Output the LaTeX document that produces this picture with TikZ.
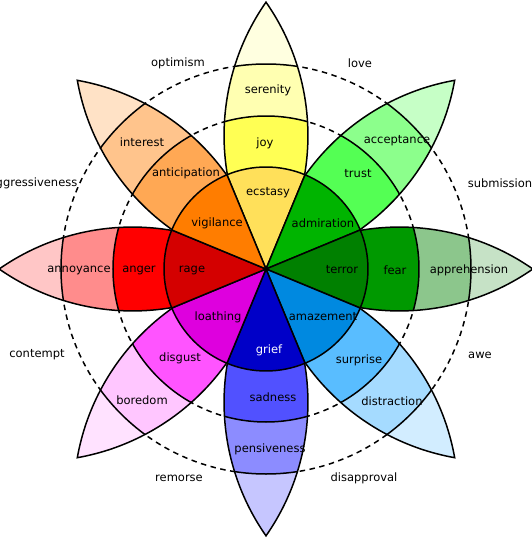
\documentclass[tikz,border=0pt]{standalone}
\usepackage{fontspec}
\setmainfont{DejaVu Sans}
\definecolor{ecs}{HTML}{FFE05A}
\definecolor{joy}{HTML}{FFFF54}
\definecolor{ser}{HTML}{FFFFB1}
\definecolor{joyt}{HTML}{FFFFE0}
\definecolor{adm}{HTML}{00B400}
\definecolor{tru}{HTML}{54FF54}
\definecolor{acc}{HTML}{8CFF8C}
\definecolor{trut}{HTML}{C6FFC6}
\definecolor{ter}{HTML}{008000}
\definecolor{fea}{HTML}{009900}
\definecolor{app}{HTML}{8CC68C}
\definecolor{feat}{HTML}{C6E2C6}
\definecolor{ama}{HTML}{0089E0}
\definecolor{sur}{HTML}{59BDFF}
\definecolor{dis}{HTML}{A5DBFF}
\definecolor{surt}{HTML}{D2EDFF}
\definecolor{gri}{HTML}{0000C8}
\definecolor{sad}{HTML}{5151FF}
\definecolor{pen}{HTML}{8C8CFF}
\definecolor{sadt}{HTML}{C6C6FF}
\definecolor{loa}{HTML}{DE00DE}
\definecolor{dsg}{HTML}{FF54FF}
\definecolor{bor}{HTML}{FFC6FF}
\definecolor{dsgt}{HTML}{FFE2FF}
\definecolor{rag}{HTML}{D40000}
\definecolor{ang}{HTML}{FF0000}
\definecolor{ann}{HTML}{FF8C8C}
\definecolor{angt}{HTML}{FFC6C6}
\definecolor{vig}{HTML}{FF7D00}
\definecolor{ant}{HTML}{FFA854}
\definecolor{int}{HTML}{FFC48C}
\definecolor{antt}{HTML}{FFE2C6}
\def\lens{(0,0) arc[start angle=124.9,end angle=55.1,radius=233.2pt] arc[start angle=-55.1,end angle=-124.9,radius=233.2pt] -- cycle}
\begin{document}
\begin{tikzpicture}[x=1pt,y=1pt,line width=1.5pt,
  lbl/.style={font=\fontsize{11.5}{13}\selectfont,inner sep=0pt},
  guide/.style={dash pattern=on 5.5pt off 4.5pt,line width=1.5pt}]
\useasboundingbox (-266,-270) rectangle (265,269);
\draw[guide] (0,0) circle[radius=153pt];
\draw[guide] (0,0) circle[radius=205pt];
\foreach \a/\cb/\cc/\cd in {90/joy/ser/joyt,45/tru/acc/trut,0/fea/app/feat,-45/sur/dis/surt,-90/sad/pen/sadt,-135/dsg/bor/dsgt,180/ang/ann/angt,135/ant/int/antt}{
  \begin{scope}[rotate=\a]
    \fill[\cd] \lens;
    \begin{scope}
      \clip \lens;
      \fill[\cc] (0,0) circle[radius=205pt];
      \fill[\cb] (0,0) circle[radius=153pt];
      \draw (0,0) circle[radius=205pt];
      \draw (0,0) circle[radius=153pt];
    \end{scope}
    \draw \lens;
  \end{scope}
}
\foreach \a/\ca in {90/ecs,45/adm,0/ter,-45/ama,-90/gri,-135/loa,180/rag,135/vig}{
  \filldraw[fill=\ca,line join=round] (0,0) -- (\a-22.5:102pt) arc[start angle=\a-22.5,end angle=\a+22.5,radius=102pt] -- cycle;
}
% inner ring
\node[lbl] (ecstasy) at (2,76) {ecstasy};
\node[lbl] (admiration) at (57,46) {admiration};
\node[lbl] (terror) at (76,-1) {terror};
\node[lbl] (amazement) at (57,-48) {amazement};
\node[lbl,text=white] (grief) at (3,-81) {grief};
\node[lbl] (loathing) at (-48,-48) {loathing};
\node[lbl] (rage) at (-74,-1) {rage};
\node[lbl] (vigilance) at (-49,46) {vigilance};
% middle ring
\node[lbl] (joyl) at (-1,126) {joy};
\node[lbl] (trust) at (92,95) {trust};
\node[lbl] (fear) at (129,-1) {fear};
\node[lbl] (surprise) at (93,-91) {surprise};
\node[lbl] (sadness) at (7,-128) {sadness};
\node[lbl] (disgust) at (-86,-89) {disgust};
\node[lbl] (anger) at (-127,-1) {anger};
\node[lbl] (anticipation) at (-80,96) {anticipation};
% outer ring
\node[lbl] (serenity) at (2,179) {serenity};
\node[lbl] (acceptance) at (131,128) {acceptance};
\node[lbl] (apprehension) at (203,-1) {apprehension};
\node[lbl] (distraction) at (126,-132) {distraction};
\node[lbl] (pensiveness) at (4,-180) {pensiveness};
\node[lbl] (boredom) at (-124,-131) {boredom};
\node[lbl] (annoyance) at (-187,-1) {annoyance};
\node[lbl] (interest) at (-124,127) {interest};
% dyads
\node[lbl] (optimism) at (-88,206) {optimism};
\node[lbl] (love) at (94,206) {love};
\node[lbl] (submission) at (234,86) {submission};
\node[lbl] (awe) at (214,-86) {awe};
\node[lbl] (disapproval) at (98,-209) {disapproval};
\node[lbl] (remorse) at (-87,-209) {remorse};
\node[lbl] (contempt) at (-229,-86) {contempt};
\node[lbl] (aggressiveness) at (-233,86) {aggressiveness};
\end{tikzpicture}
\end{document}
